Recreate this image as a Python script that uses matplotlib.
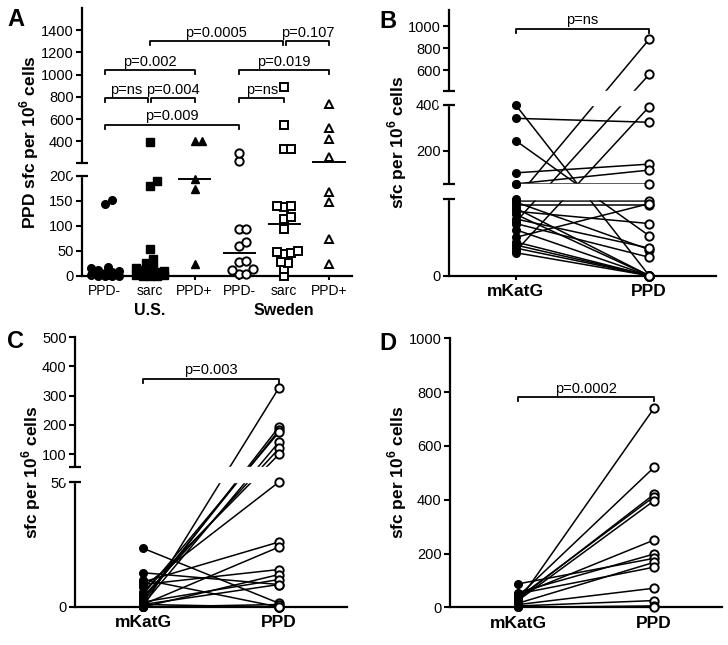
import numpy as np
import matplotlib
matplotlib.use("Agg")
import matplotlib.pyplot as plt

plt.rcParams['font.family'] = ['Liberation Sans', 'DejaVu Sans']
plt.rcParams['mathtext.fontset'] = 'custom'
plt.rcParams['mathtext.rm'] = 'Liberation Sans'
plt.rcParams['mathtext.bf'] = 'Liberation Sans:bold'

# ---------------- data ----------------
# panel A: PPD sfc per 10^6 cells by group
a_groups = ["PPD-", "sarc", "PPD+", "PPD-", "sarc", "PPD+"]
a_countries = ["U.S.", "Sweden"]
us_ppdneg = [0, 0, 0, 0, 1, 2, 3, 4, 5, 6, 8, 10, 12, 16, 18, 143, 151]
us_sarc = [0, 0, 0, 1, 2, 3, 4, 5, 6, 8, 8, 10, 12, 15, 18, 25, 33, 53, 180, 190, 390]
us_ppdpos = [23, 173, 193, 400, 400]
sw_ppdneg = [3, 3, 12, 13, 28, 30, 60, 67, 93, 93, 226, 292]
sw_sarc = [0, 13, 25, 27, 44, 45, 48, 50, 93, 113, 117, 137, 139, 140, 330, 330, 550, 890]
sw_ppdpos = [23, 73, 147, 167, 256, 420, 520, 732]
a_tests = [(1, 4, "p=0.0005"), (4, 5, "p=0.107"),
           (0, 2, "p=0.002"), (3, 5, "p=0.019"),
           (0, 1, "p=ns"), (1, 2, "p=0.004"), (3, 4, "p=ns"),
           (0, 3, "p=0.009")]
a_levels = [1300, 1300, 1040, 1040, 790, 790, 790, 550]

# panels B-D: paired mKatG vs PPD
pair_labels = ["mKatG", "PPD"]
b_mkatg = [400, 342, 245, 105, 57, 57, 50, 35, 16, 49, 48, 46, 44, 42, 40, 37, 34, 25, 22, 20, 18, 15, 30]
b_ppd = [0, 325, 26, 143, 117, 57, 880, 560, 393, 49, 17, 46, 0, 34, 0, 18, 12, 47, 0, 0, 0, 0, 0]
b_p = "p=ns"

c_mkatg = [23.5, 13.7, 0, 2, 3, 5, 1, 4, 6, 8, 10, 1, 9, 0, 2, 1, 0, 0, 1, 0, 11]
c_ppd = [1.5, 9, 327, 193, 181, 175, 141, 119, 99, 50, 26, 24, 15, 13, 11, 9, 0, 0, 0, 1, 0]
c_p = "p=0.003"

d_mkatg = [20, 40, 30, 35, 25, 45, 55, 87, 15, 50, 10, 5, 0, 2]
d_ppd = [740, 520, 420, 411, 396, 250, 198, 182, 167, 149, 71, 25, 5, 0]
d_p = "p=0.0002"

# ---------------- helpers ----------------
W, H = 728, 645
fig = plt.figure(figsize=(W / 100, H / 100), dpi=100)


def add_axes(left, top, right, bottom):
    return fig.add_axes([left / W, 1 - bottom / H, (right - left) / W, (bottom - top) / H])


def seg_scale(ax, dk, pk):
    # piecewise linear (broken) y axis, in pixel-like units
    dk = np.array(dk, float)
    pk = np.array(pk, float)
    s0 = (pk[1] - pk[0]) / (dk[1] - dk[0])
    s1 = (pk[-1] - pk[-2]) / (dk[-1] - dk[-2])
    dk2 = np.r_[dk[0] - 1e5, dk, dk[-1] + 1e5]
    pk2 = np.r_[pk[0] - 1e5 * s0, pk, pk[-1] + 1e5 * s1]
    fwd = lambda v: np.interp(v, dk2, pk2)
    inv = lambda v: np.interp(v, pk2, dk2)
    ax.set_yscale('function', functions=(fwd, inv))
    ax.set_ylim(dk[0], dk[-1])
    return fwd, inv


def style(ax):
    for s in ['top', 'right']:
        ax.spines[s].set_visible(False)
    for s in ['left', 'bottom']:
        ax.spines[s].set_linewidth(1.6)
    ax.tick_params(axis='y', direction='out', length=4, width=1.5, labelsize=10.5, pad=2)
    ax.tick_params(axis='x', direction='out', length=3, width=1.5, pad=3)
    ax.yaxis.set_minor_locator(plt.NullLocator())


def add_break(ax, lo, hi):
    ax.axhspan(lo, hi, xmin=-0.04, xmax=1.0, color='white', zorder=2.6, clip_on=False)
    for y in (lo, hi):
        ax.plot([0], [y], marker='_', ms=9, mew=1.6, color='k',
                transform=ax.get_yaxis_transform(), clip_on=False, zorder=5)


def bracket(ax, fwd, inv, x0, x1, y, label):
    yd = inv(fwd(y) - 4)
    ax.plot([x0, x0, x1, x1], [yd, y, y, yd], color='k', lw=1.3, clip_on=False, zorder=4)
    ax.text((x0 + x1) / 2, inv(fwd(y) + 1.5), label, ha='center', va='bottom', fontsize=10.5)


def swarm(values, fwd, px_per_x, diam=7.0, spread=15):
    # simple beeswarm: points may overlap a little, like Prism does
    vals = np.asarray(values, float)
    offs = np.zeros(len(vals))
    placed = []
    step = diam * 0.5
    n = int(spread // step)
    cands = [0.0]
    for k in range(1, n + 1):
        cands += [k * step, -k * step]
    for i in np.argsort(vals, kind='stable'):
        y = fwd(vals[i])
        best, best_d = 0.0, -1
        for dx in cands:
            d = min([np.hypot(dx - px, y - py) for px, py in placed] or [99])
            if d >= diam * 0.9:
                best = dx
                break
            if d > best_d:
                best, best_d = dx, d
        placed.append((best, y))
        offs[i] = best / px_per_x
    return offs


def paired(ax, fwd, inv, mk, pp, p_label, p_level):
    for m, p in zip(mk, pp):
        ax.plot([0, 1], [m, p], color='k', lw=1.1, zorder=2, clip_on=False)
    ax.plot(np.zeros(len(mk)), mk, 'o', ms=5.5, color='k', zorder=3, clip_on=False)
    ax.plot(np.ones(len(pp)), pp, 'o', ms=6, mfc='white', mec='k', mew=1.4, zorder=3, clip_on=False)
    ax.set_xlim(-0.5, 1.5)
    ax.set_xticks([0, 1])
    ax.set_xticklabels(pair_labels, fontsize=12.5, fontweight='bold')
    bracket(ax, fwd, inv, 0, 1, p_level, p_label)


# ---------------- panel A ----------------
axA = add_axes(82, 8, 352, 275.7)
style(axA)
fA, iA = seg_scale(axA, [0, 200, 208, 1600], [0, 100, 113, 267.7])
axA.set_xlim(-0.51, 5.51)
axA.set_yticks([0, 50, 100, 150, 200, 400, 600, 800, 1000, 1200, 1400])
axA.set_xticks(range(6))
axA.set_xticklabels(a_groups, fontsize=10)
add_break(axA, 200, 208)

series = [us_ppdneg, us_sarc, us_ppdpos, sw_ppdneg, sw_sarc, sw_ppdpos]
marks = ['o', 's', '^', 'o', 's', '^']
filled = [True, True, True, False, False, False]
sizes = [5.5, 5.5, 6, 6, 5.5, 6]
for i, vals in enumerate(series):
    xo = i + swarm(vals, fA, 44.8)
    if filled[i]:
        axA.plot(xo, vals, marks[i], ms=sizes[i], color='k', zorder=3, clip_on=False, ls='none')
    else:
        axA.plot(xo, vals, marks[i], ms=sizes[i], mfc='white', mec='k', mew=1.4,
                 zorder=3, clip_on=False, ls='none')
    axA.plot([i - 0.35, i + 0.35], [np.median(vals)] * 2, color='k', lw=1.4, zorder=3)

for (g0, g1, lab), lev in zip(a_tests, a_levels):
    x0 = g0 + (0.03 if any(t[1] == g0 and l == lev for t, l in zip(a_tests, a_levels)) else 0)
    x1 = g1 - (0.03 if any(t[0] == g1 and l == lev for t, l in zip(a_tests, a_levels)) else 0)
    bracket(axA, fA, iA, x0, x1, lev, lab)

for j, name in enumerate(a_countries):
    axA.text(3 * j + 1, -0.13, name, transform=axA.get_xaxis_transform(),
             ha='center', va='center', fontsize=11.5, fontweight='bold')

# ---------------- panel B ----------------
axB = add_axes(449, 9.5, 716, 275.7)
style(axB)
fB, iB = seg_scale(axB, [0, 50, 55, 400, 410, 1150], [0, 76.7, 91.35, 170.7, 184.8, 266.2])
axB.set_yticks([0, 200, 400, 600, 800, 1000])
add_break(axB, 50, 55)
add_break(axB, 400, 410)
paired(axB, fB, iB, b_mkatg, b_ppd, b_p, 975)

# ---------------- panel C ----------------
axC = add_axes(75, 337.3, 347, 607)
style(axC)
fC, iC = seg_scale(axC, [0, 50, 56.5, 500], [0, 125, 140.3, 269.7])
axC.set_yticks([0, 50, 100, 200, 300, 400, 500])
add_break(axC, 50, 56.5)
paired(axC, fC, iC, c_mkatg, c_ppd, c_p, 358)

# ---------------- panel D ----------------
axD = add_axes(450, 338.3, 722, 607.3)
style(axD)
fD, iD = seg_scale(axD, [0, 1000], [0, 269])
axD.set_yticks([0, 200, 400, 600, 800, 1000])
paired(axD, fD, iD, d_mkatg, d_ppd, d_p, 780)

# ---------------- labels ----------------
ylab = r"sfc per 10$^{\mathbf{6}}$ cells"
fig.text(29 / W, 1 - 142 / H, "PPD " + ylab, rotation=90, ha='center', va='center',
         fontsize=12.5, fontweight='bold')
fig.text(397 / W, 1 - 142 / H, ylab, rotation=90, ha='center', va='center',
         fontsize=12.5, fontweight='bold')
fig.text(31 / W, 1 - 472 / H, ylab, rotation=90, ha='center', va='center',
         fontsize=12.5, fontweight='bold')
fig.text(397 / W, 1 - 472 / H, ylab, rotation=90, ha='center', va='center',
         fontsize=12.5, fontweight='bold')

for lab, x, y in [("A", 16, 20), ("B", 388, 21), ("C", 16, 342), ("D", 388, 343)]:
    fig.text(x / W, 1 - y / H, lab, ha='center', va='center', fontsize=17, fontweight='bold')

fig.savefig("out.png", dpi=100)
